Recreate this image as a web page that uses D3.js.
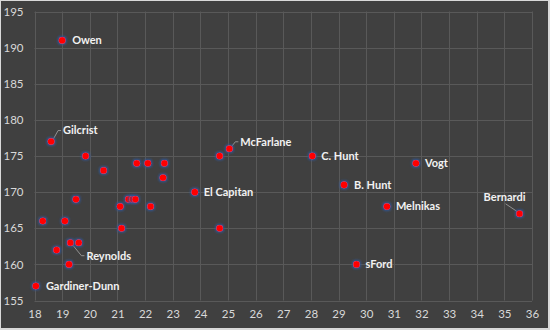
<!DOCTYPE html>
<html><head><meta charset="utf-8">
<script src="https://cdn.jsdelivr.net/npm/d3@7"></script>
<style>
html,body{margin:0;padding:0;background:#d9d9d9;}
svg{display:block;}
</style></head>
<body>
<svg id="c" width="550" height="330"></svg>
<script>
const xValues = [19.0,18.6,19.85,21.7,22.1,22.7,20.5,22.65,23.8,19.5,21.4,21.55,21.65,21.1,22.2,18.3,19.1,21.15,19.3,19.6,18.8,19.25,18.05,24.7,25.05,28.05,29.2,24.7,29.65,31.8,30.75,35.55];
const yValues = [191,177,175,174,174,174,173,172,170,169,169,169,169,168,168,166,166,165,163,163,162,160,157,175,176,175,171,165,160,174,168,167];
const names = ["Owen","Gilcrist","","","","","","","El Capitan","","","","","","","","","","Reynolds","","","","Gardiner-Dunn","","McFarlane","C. Hunt","B. Hunt","","sFord","Vogt","Melnikas","Bernardi"];
const xTicks = [18,19,20,21,22,23,24,25,26,27,28,29,30,31,32,33,34,35,36];
const yTicks = [155,160,165,170,175,180,185,190,195];

// label offsets (dx, dy) from point and optional leader
const labelPos = {
  "Owen":{dx:10,dy:0},
  "Gilcrist":{dx:12,dy:-11,leader:true},
  "El Capitan":{dx:9,dy:0},
  "Reynolds":{dx:16,dy:13,leader:true},
  "Gardiner-Dunn":{dx:10,dy:0},
  "McFarlane":{dx:11,dy:-7,leader:true},
  "C. Hunt":{dx:9,dy:0},
  "B. Hunt":{dx:10,dy:0},
  "sFord":{dx:9,dy:0},
  "Vogt":{dx:9,dy:0},
  "Melnikas":{dx:9,dy:0},
  "Bernardi":{dx:-15,dy:-17,leader:true,anchor:"middle"}
};

const svg = d3.select("#c");
svg.append("rect").attr("x",1).attr("y",1).attr("width",547).attr("height",327).attr("fill","#404040");

const x = d3.scaleLinear().domain([18,36]).range([34.5,532]);
const y = d3.scaleLinear().domain([155,195]).range([300.5,11.5]);

const defs = svg.append("defs");
const f = defs.append("filter").attr("id","glow").attr("x","-100%").attr("y","-100%").attr("width","300%").attr("height","300%");
f.append("feMorphology").attr("in","SourceAlpha").attr("operator","dilate").attr("radius",1).attr("result","d");
f.append("feGaussianBlur").attr("in","d").attr("stdDeviation",1.3).attr("result","b");
f.append("feFlood").attr("flood-color","#2f5597").attr("flood-opacity",1);
f.append("feComposite").attr("in2","b").attr("operator","in").attr("result","g");
const m = f.append("feMerge");
m.append("feMergeNode").attr("in","g");
m.append("feMergeNode").attr("in","SourceGraphic");

// grid
const g = svg.append("g");
g.selectAll("line.v").data(xTicks).join("line")
  .attr("x1",d=>Math.round(x(d))+0.5).attr("x2",d=>Math.round(x(d))+0.5)
  .attr("y1",y(195)).attr("y2",y(155))
  .attr("stroke","#595959").attr("stroke-width",1);
g.selectAll("line.h").data(yTicks).join("line")
  .attr("y1",d=>Math.round(y(d))+0.5).attr("y2",d=>Math.round(y(d))+0.5)
  .attr("x1",x(18)).attr("x2",x(36))
  .attr("stroke","#595959").attr("stroke-width",1);

// axes
const xAxis = d3.axisBottom(x).tickValues(xTicks).tickSize(0).tickPadding(9);
const yAxis = d3.axisLeft(y).tickValues(yTicks).tickSize(0).tickPadding(11);
const gx = svg.append("g").attr("transform",`translate(0,${y(155)})`).call(xAxis);
const gy = svg.append("g").attr("transform",`translate(${x(18)},0)`).call(yAxis);
[gx,gy].forEach(a=>{
  a.select(".domain").remove();
  a.selectAll("text").attr("fill","#d9d9d9").attr("font-family","Lato, 'Open Sans', sans-serif").attr("font-size",11.5);
});

const data = xValues.map((v,i)=>({x:v,y:yValues[i],name:names[i]}));

// leaders
const lbl = data.filter(d=>d.name);
svg.selectAll("path.leader").data(lbl.filter(d=>labelPos[d.name].leader)).join("path")
  .attr("fill","none").attr("stroke","#a6a6a6").attr("stroke-width",0.8)
  .attr("d",d=>{
    const p=labelPos[d.name]; const px=x(d.x), py=y(d.y);
    if(d.name==="Bernardi") return `M${px-2},${py-2}L${px+p.dx+1},${py+p.dy+7}`;
    return `M${px+2},${py+ (p.dy>0?2:-2)}L${px+p.dx-5},${py+p.dy}L${px+p.dx-2},${py+p.dy}`;
  });

// points
svg.append("g").selectAll("circle").data(data).join("circle")
  .attr("cx",d=>x(d.x)).attr("cy",d=>y(d.y)).attr("r",3.3)
  .attr("fill","#ff0000").attr("filter","url(#glow)");

// labels
svg.append("g").selectAll("text").data(lbl).join("text")
  .attr("x",d=>x(d.x)+labelPos[d.name].dx)
  .attr("y",d=>y(d.y)+labelPos[d.name].dy)
  .attr("dy","0.35em")
  .attr("text-anchor",d=>labelPos[d.name].anchor||"start")
  .attr("fill","#f2f2f2").attr("font-weight","bold")
  .attr("font-family","Lato, 'Open Sans', sans-serif").attr("font-size",11)
  .text(d=>d.name);
</script>
</body></html>
